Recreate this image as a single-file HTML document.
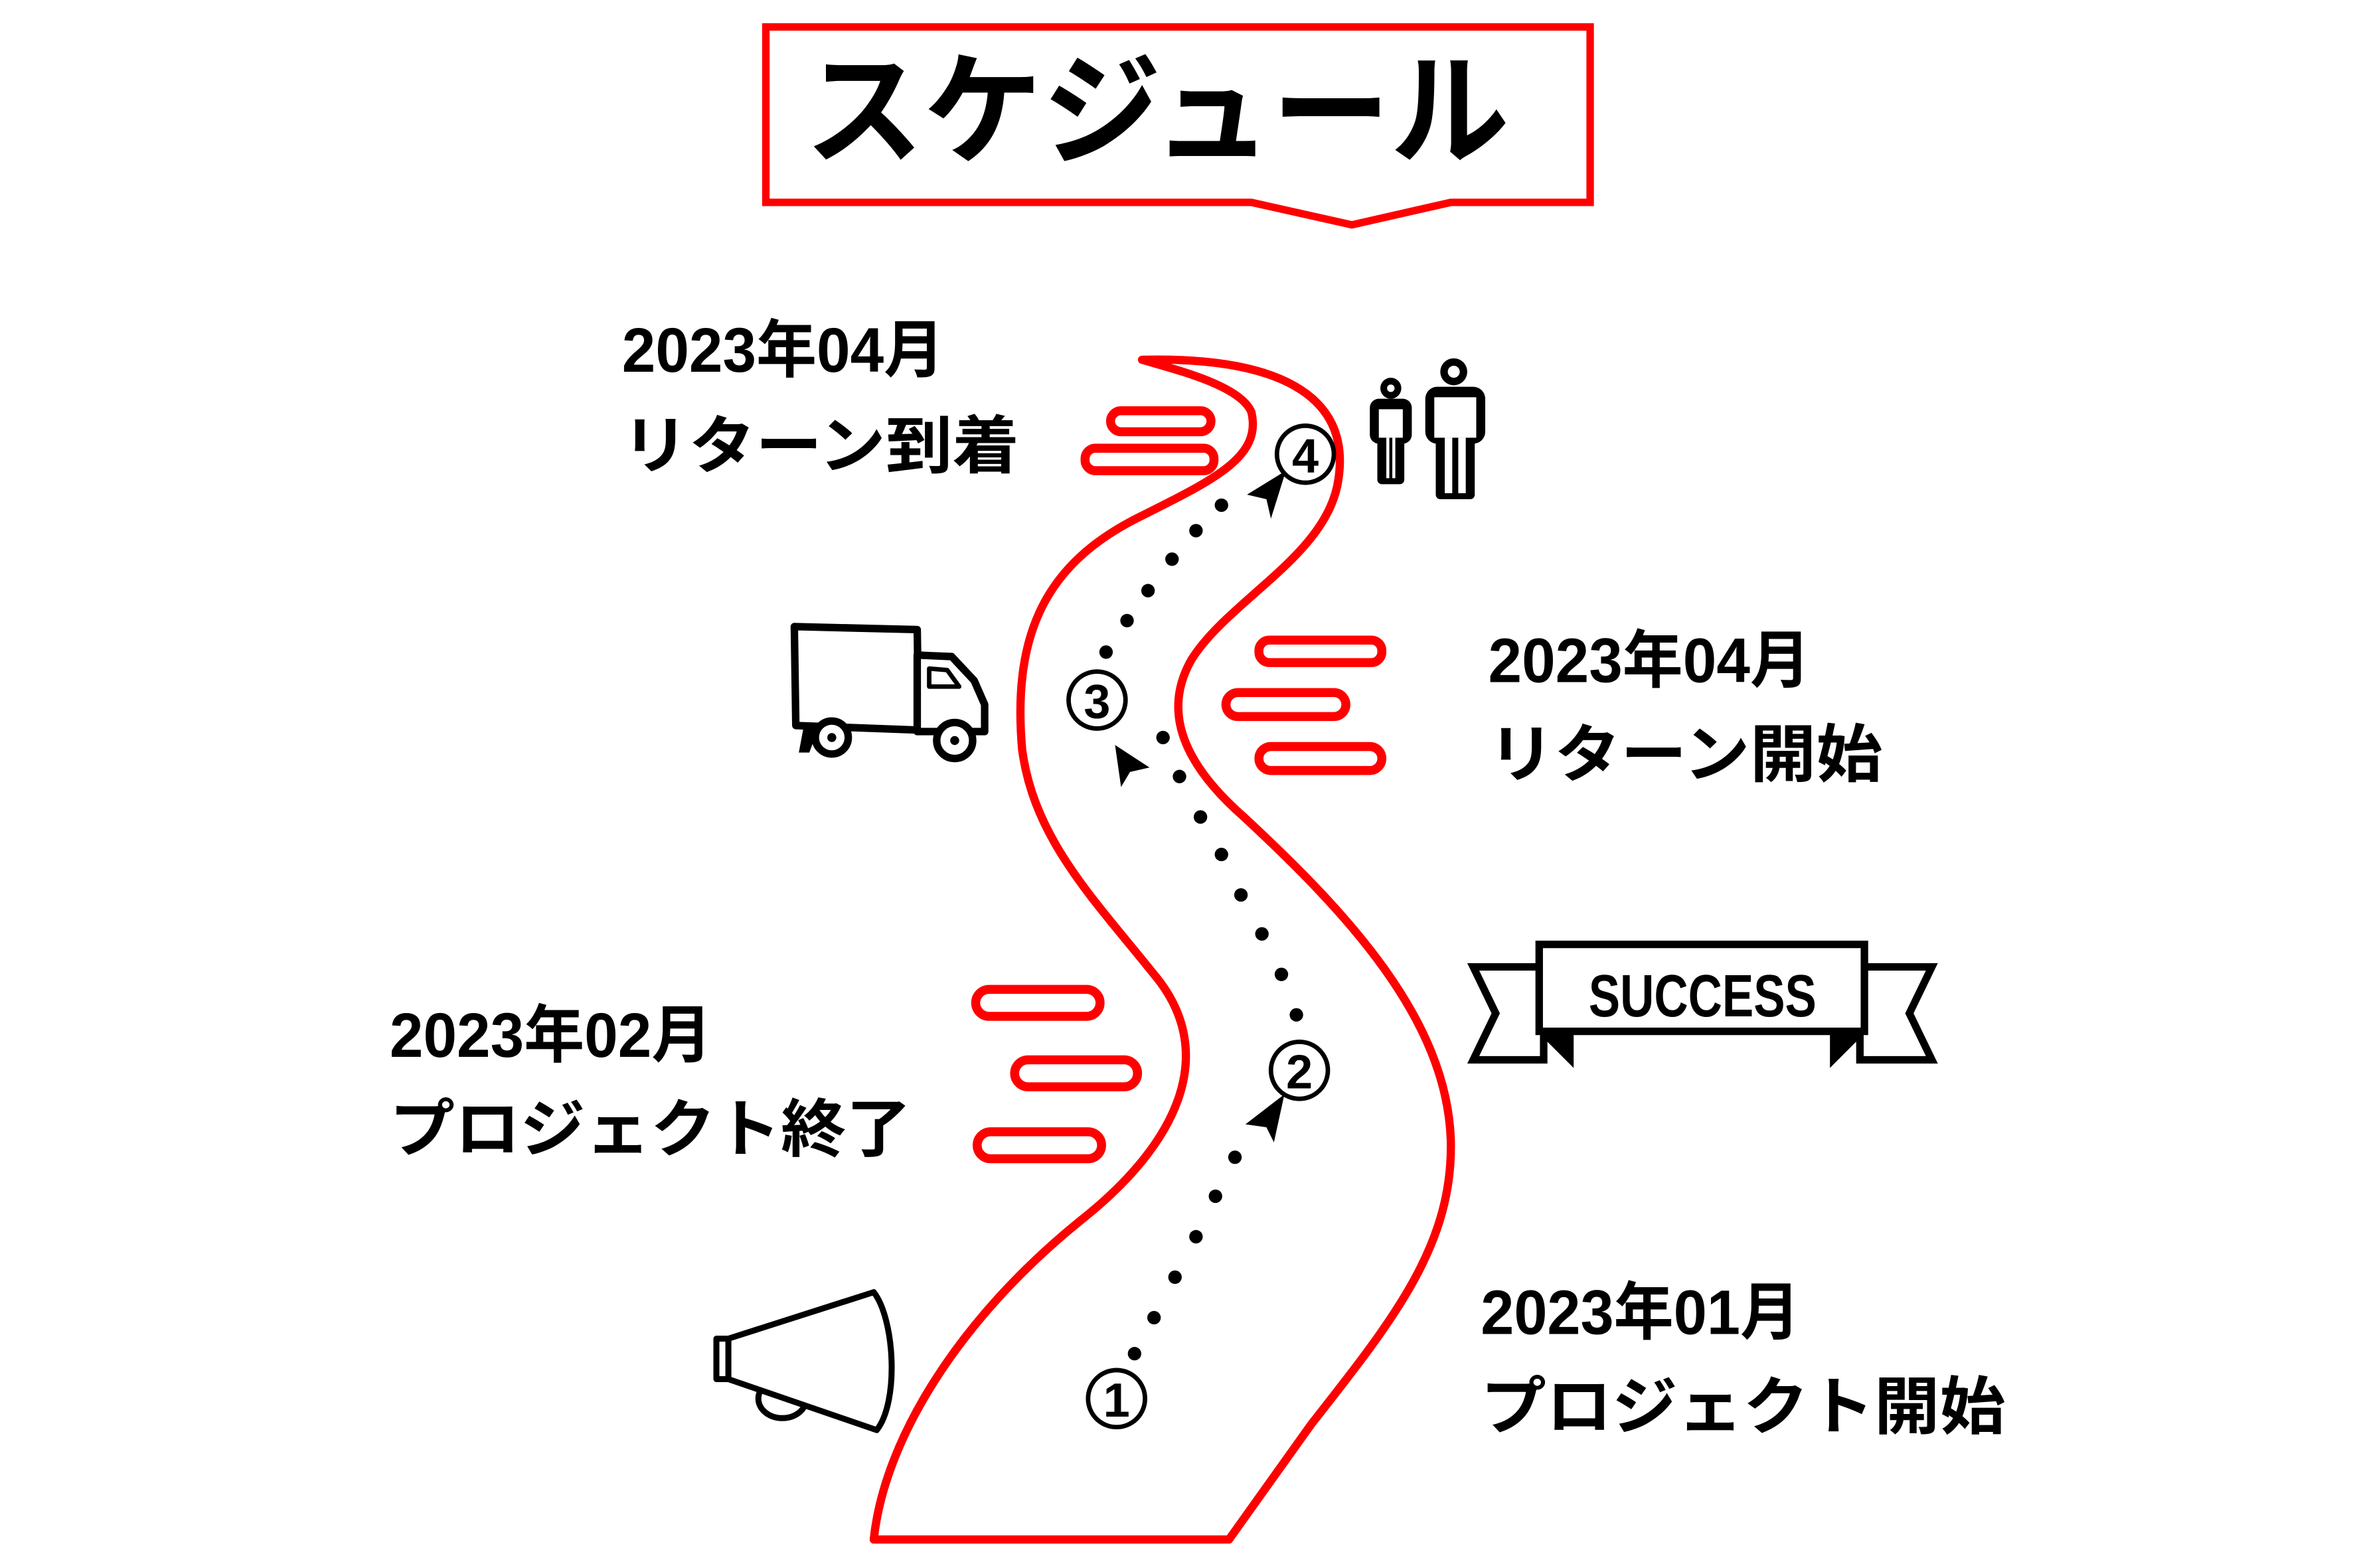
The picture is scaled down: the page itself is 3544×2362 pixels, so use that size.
<!DOCTYPE html>
<html><head><meta charset="utf-8"><style>
html,body{margin:0;padding:0;background:#fff;}
svg{display:block;}
text{font-family:"Liberation Sans","Noto Sans CJK JP",sans-serif;font-weight:bold;fill:#000;}
</style></head><body>
<svg width="3544" height="2362" viewBox="0 0 1570 1046" preserveAspectRatio="none" xmlns="http://www.w3.org/2000/svg">
<rect width="1570" height="1046" fill="#fff"/>
<path d="M511,18 L1061,18 L1061,135 L968,135 L902,150 L835,135 L511,135 Z" fill="#fff" stroke="#f00" stroke-width="5" stroke-linejoin="miter"/>
<text x="772" y="103" font-size="82" text-anchor="middle" textLength="470" lengthAdjust="spacingAndGlyphs">スケジュール</text>
<path d="M583,1027 C590,960 640,880 720,815 C790,760 812,700 770,650 C730,600 690,560 682,500 C675,420 700,375 760,345 C810,320 842,305 835,275 C828,258 790,248 762,240 C850,238 902,262 893,320 C886,370 820,400 795,440 C775,475 790,510 830,545 C900,610 965,680 968,760 C970,830 930,880 875,950 L820,1027 Z" fill="#fff" stroke="#f00" stroke-width="5.5" stroke-linejoin="round"/>
<g fill="none" stroke="#f00" stroke-width="6">
<rect x="741" y="274" width="67" height="14" rx="7"/>
<rect x="724" y="299" width="86" height="15" rx="7"/>
<rect x="840" y="427" width="82" height="15" rx="7"/>
<rect x="818" y="462" width="80" height="16" rx="8"/>
<rect x="840" y="498" width="82" height="16" rx="8"/>
<rect x="651" y="660" width="83" height="18" rx="9"/>
<rect x="677" y="707" width="82" height="18" rx="9"/>
<rect x="652" y="755" width="83" height="18" rx="9"/>
</g>
<g fill="#000">
<circle cx="757" cy="903" r="4.5"/><circle cx="770" cy="879" r="4.5"/><circle cx="784" cy="852" r="4.5"/><circle cx="798" cy="825" r="4.5"/><circle cx="811" cy="798" r="4.5"/><circle cx="824" cy="772" r="4.5"/>
<circle cx="865" cy="677" r="4.5"/><circle cx="855" cy="650" r="4.5"/><circle cx="842" cy="623" r="4.5"/><circle cx="828" cy="597" r="4.5"/><circle cx="815" cy="570" r="4.5"/><circle cx="801" cy="545" r="4.5"/><circle cx="787" cy="518" r="4.5"/><circle cx="776" cy="492" r="4.5"/>
<circle cx="738" cy="435" r="4.5"/><circle cx="752" cy="414" r="4.5"/><circle cx="766" cy="394" r="4.5"/><circle cx="782" cy="373" r="4.5"/><circle cx="798" cy="354" r="4.5"/><circle cx="815" cy="337" r="4.5"/>
<path d="M857,730 L831,750 L845,752 L850,762 Z"/>
<path d="M744,497 L767,512 L754,515 L748,525 Z"/>
<path d="M858,314 L832,330 L845,333 L848,346 Z"/>
</g>
<g fill="#fff" stroke="#000" stroke-width="3">
<circle cx="745" cy="933" r="19"/><circle cx="867" cy="714" r="19"/><circle cx="732" cy="467" r="19"/><circle cx="871" cy="303" r="19"/>
</g>
<g font-size="32" text-anchor="middle">
<text x="745" y="945">1</text>
<text x="867" y="726">2</text>
<text x="732" y="479">3</text>
<text x="871" y="315">4</text>
</g>
<g font-size="42">
<text x="415" y="248" textLength="215" lengthAdjust="spacingAndGlyphs">2023年04月</text>
<text x="415" y="312" textLength="265" lengthAdjust="spacingAndGlyphs">リターン到着</text>
<text x="993" y="455" textLength="215" lengthAdjust="spacingAndGlyphs">2023年04月</text>
<text x="993" y="518" textLength="263" lengthAdjust="spacingAndGlyphs">リターン開始</text>
<text x="260" y="705" textLength="215" lengthAdjust="spacingAndGlyphs">2023年02月</text>
<text x="260" y="768" textLength="348" lengthAdjust="spacingAndGlyphs">プロジェクト終了</text>
<text x="988" y="890" textLength="213" lengthAdjust="spacingAndGlyphs">2023年01月</text>
<text x="988" y="953" textLength="350" lengthAdjust="spacingAndGlyphs">プロジェクト開始</text>
</g>
<g fill="#000">
<circle cx="928" cy="259" r="7"/><rect x="914" y="266" width="28" height="30" rx="6"/><rect x="919" y="292" width="18" height="31" rx="3"/>
<circle cx="970" cy="248" r="9"/><rect x="951" y="258" width="40" height="38" rx="8"/><rect x="958" y="292" width="26" height="41" rx="3"/>
</g>
<g fill="#fff">
<rect x="920" y="273" width="16" height="19"/><rect x="925" y="292" width="2" height="27"/><rect x="929" y="292" width="2" height="27"/>
<rect x="957" y="265" width="28" height="27"/><rect x="964" y="292" width="5" height="37"/><rect x="973" y="292" width="5" height="37"/>
<circle cx="928" cy="259" r="2.5"/><circle cx="970" cy="248" r="4"/>
</g>
<g stroke="#000" fill="#fff" stroke-width="5" stroke-linejoin="round">
<path d="M530,418 L612,420 L613,487 L531,484 Z"/>
<path d="M612,437 L635,438 L650,454 L657,470 L657,488 L612,488 Z"/>
<path d="M620,446 L632,447 L640,458 L620,458 Z" stroke-width="3"/>
<circle cx="555" cy="492" r="11"/><circle cx="637" cy="494" r="12"/>
</g>
<g fill="#000"><circle cx="555" cy="492" r="3"/><circle cx="637" cy="494" r="3"/><path d="M536,486 L546,486 L540,502 L533,502 Z"/></g>
<g stroke="#000" fill="#fff" stroke-width="4" stroke-linejoin="round">
<ellipse cx="522" cy="933" rx="16" ry="13"/>
<path d="M478,893 L486,893 L583,862 C597,880 600,935 585,954 L486,920 L478,920 Z"/>
<path d="M486,893 L486,920"/>
</g>
<g stroke="#000" fill="#fff" stroke-width="5" stroke-linejoin="miter">
<path d="M983,645 L1030,645 L1030,707 L983,707 L998,676 Z"/>
<path d="M1289,645 L1241,645 L1241,707 L1289,707 L1274,676 Z"/>
<rect x="1027" y="630" width="217" height="58"/>
<path d="M1027,688 L1049,710 L1049,688 Z" fill="#000" stroke-width="2"/>
<path d="M1244,688 L1222,710 L1222,688 Z" fill="#000" stroke-width="2"/>
</g>
<text x="1136" y="678" font-size="40" text-anchor="middle" textLength="152" lengthAdjust="spacingAndGlyphs">SUCCESS</text>
</svg>
</body></html>
